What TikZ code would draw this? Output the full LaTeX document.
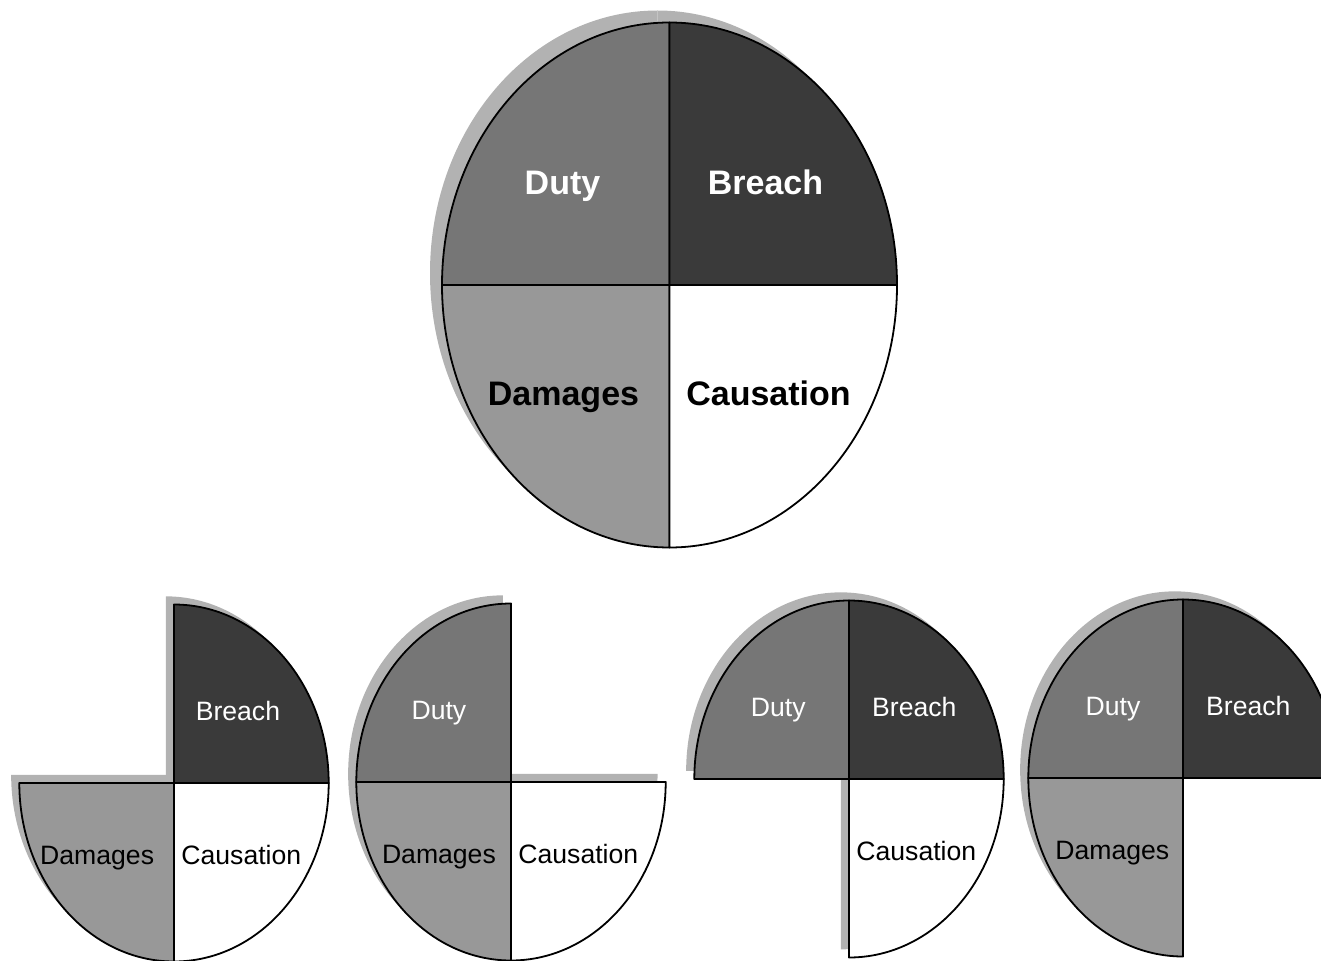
\documentclass[tikz,border=0pt]{standalone}
\usepackage{fontspec}
\setmainfont{Liberation Sans}
\definecolor{cus-duty}{RGB}{118,118,118}
\definecolor{cus-breach}{RGB}{58,58,58}
\definecolor{cus-damages}{RGB}{152,152,152}
\definecolor{cus-shadow}{RGB}{178,178,178}
\begin{document}
\begin{tikzpicture}[x=0.5pt,y=0.5pt,
  sector/.style={draw=black,line width=0.9pt,line join=round},
  bigtext/.style={anchor=base,font=\fontsize{17}{20}\selectfont\bfseries},
  smalltext/.style={anchor=base,font=\fontsize{13.3}{16}\selectfont}]
\useasboundingbox (0,0) rectangle (1321,960);
\foreach \cx/\cy/\s/\lab/\parts [count=\n] in {
  669.5/675/1/bigtext/{90/cus-duty/white/-107/90/Duty,0/cus-breach/white/96/90/Breach,180/cus-damages/black/-106/-120/Damages,270/white/black/99/-120/Causation},
  174/177/0.68/smalltext/{0/cus-breach/white/94/92/Breach,180/cus-damages/black/-113/-120/Damages,270/white/black/99/-120/Causation},
  511/178/0.68/smalltext/{90/cus-duty/white/-106/92/Duty,180/cus-damages/black/-106/-120/Damages,270/white/black/99/-120/Causation},
  849/181/0.68/smalltext/{90/cus-duty/white/-104/92/Duty,0/cus-breach/white/96/92/Breach,270/white/black/99/-120/Causation},
  1183/182/0.68/smalltext/{90/cus-duty/white/-103/92/Duty,0/cus-breach/white/96/92/Breach,180/cus-damages/black/-104/-120/Damages}}{
	\begin{scope}[shift={(\cx,\cy)}, scale=\s]
	\foreach \ang/\fc/\tc/\lx/\ly/\txt in \parts
		\fill [cus-shadow,shift={(-12,12)}] (0,0) -- (\ang:227.5 and 262.5) arc[start angle=\ang, delta angle=90, x radius=227.5, y radius=262.5] -- cycle;
	\foreach \ang/\fc/\tc/\lx/\ly/\txt in \parts{
		\draw [sector,fill=\fc] (0,0) -- (\ang:227.5 and 262.5) arc[start angle=\ang, delta angle=90, x radius=227.5, y radius=262.5] -- cycle;
		\node [\lab,text=\tc] (\txt-\n) at (\lx,\ly) {\txt};
	}
	\end{scope}
}
\end{tikzpicture}
\end{document}
